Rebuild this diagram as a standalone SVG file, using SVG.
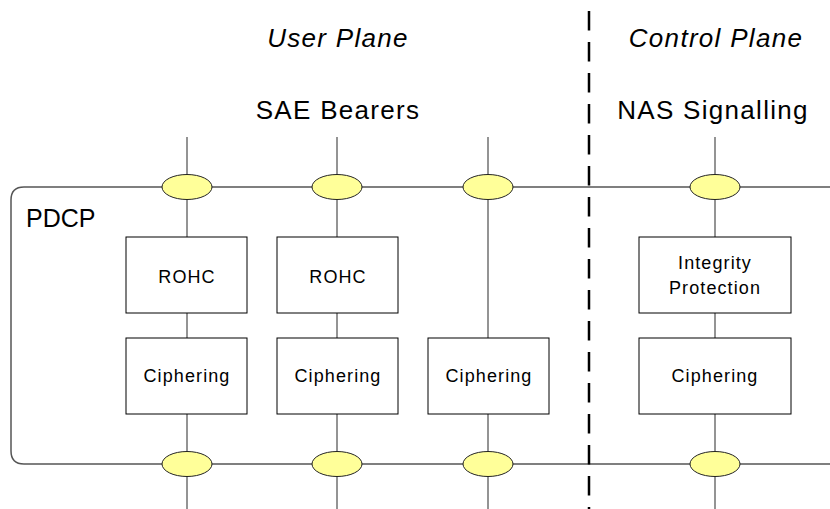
<svg xmlns="http://www.w3.org/2000/svg" width="830" height="509" viewBox="0 0 830 509">
<style>
.title{font-family:"Liberation Sans",Arial,sans-serif;font-size:26px;fill:#000;text-anchor:middle;letter-spacing:1.3px}
.it{font-style:italic}
.lbl{font-family:"Liberation Sans",Arial,sans-serif;font-size:18px;fill:#000;text-anchor:middle;letter-spacing:1.1px}
.box{fill:#fff;stroke:#000;stroke-width:1}
.port{fill:#ffff99;stroke:#222;stroke-width:1}
.wire{stroke:#707070;stroke-width:1.5;fill:none}
</style>
<rect width="830" height="509" fill="#fff"/>
<g id="pdcp">
<path d="M840,187 H24 Q11,187 11,200 V451 Q11,464 24,464 H840" fill="none" stroke="#555" stroke-width="1.5"/>
<text x="26" y="227" font-family="Liberation Sans,Arial,sans-serif" font-size="25" fill="#000">PDCP</text>
</g>
<g id="connectors">
<line class="wire" x1="187" y1="137" x2="187" y2="509"/>
<line class="wire" x1="337" y1="137" x2="337" y2="509"/>
<line class="wire" x1="488" y1="137" x2="488" y2="509"/>
<line class="wire" x1="715" y1="137" x2="715" y2="509"/>
<line x1="589" y1="11" x2="589" y2="509" stroke="#000" stroke-width="2.5" stroke-dasharray="19.5 11.5"/>
</g>
<g id="headings">
<text class="title it" x="338" y="47">User Plane</text>
<text class="title it" x="716" y="47">Control Plane</text>
<text class="title" x="338" y="119">SAE Bearers</text>
<text class="title" x="713" y="119">NAS Signalling</text>
</g>
<g id="rohc1"><rect class="box" x="126" y="237" width="121" height="76"/><text class="lbl" x="187" y="283">ROHC</text></g>
<g id="rohc2"><rect class="box" x="277" y="237" width="121" height="76"/><text class="lbl" x="338" y="283">ROHC</text></g>
<g id="integrity"><rect class="box" x="639" y="237" width="152" height="76"/><text class="lbl" x="715" y="269">Integrity</text><text class="lbl" x="715" y="294">Protection</text></g>
<g id="ciph1"><rect class="box" x="126" y="338" width="121" height="76"/><text class="lbl" x="187" y="382">Ciphering</text></g>
<g id="ciph2"><rect class="box" x="277" y="338" width="121" height="76"/><text class="lbl" x="338" y="382">Ciphering</text></g>
<g id="ciph3"><rect class="box" x="428" y="338" width="121" height="76"/><text class="lbl" x="489" y="382">Ciphering</text></g>
<g id="ciph4"><rect class="box" x="639" y="338" width="152" height="76"/><text class="lbl" x="715" y="382">Ciphering</text></g>
<g id="ports-top">
<ellipse class="port" cx="187" cy="187" rx="25" ry="12.5"/>
<ellipse class="port" cx="337" cy="187" rx="25" ry="12.5"/>
<ellipse class="port" cx="488" cy="187" rx="25" ry="12.5"/>
<ellipse class="port" cx="715" cy="187" rx="25" ry="12.5"/>
</g>
<g id="ports-bottom">
<ellipse class="port" cx="187" cy="464" rx="25" ry="12.5"/>
<ellipse class="port" cx="337" cy="464" rx="25" ry="12.5"/>
<ellipse class="port" cx="488" cy="464" rx="25" ry="12.5"/>
<ellipse class="port" cx="715" cy="464" rx="25" ry="12.5"/>
</g>
</svg>
